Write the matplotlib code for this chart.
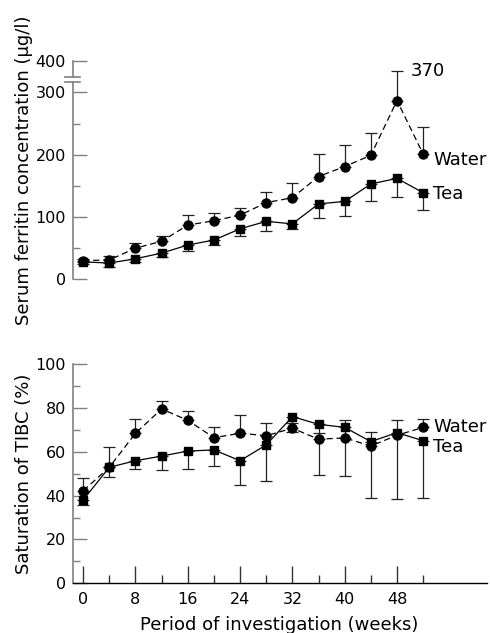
import numpy as np
import matplotlib
matplotlib.use("Agg")
import matplotlib.pyplot as plt
from matplotlib.ticker import FixedLocator

# weeks of investigation
weeks = [0, 4, 8, 12, 16, 20, 24, 28, 32, 36, 40, 44, 48, 52]

# serum ferritin (ug/l): means and one-sided error bar ends
ferritin_water = [30, 31, 50, 61, 87, 94, 103, 123, 131, 165, 181, 199, 287, 201]
ferritin_water_top = [33, 37, 58, 70, 103, 106, 115, 140, 155, 201, 215, 235, 370, 245]
ferritin_tea = [28, 26, 33, 42, 55, 63, 81, 93, 89, 121, 125, 153, 162, 139]
ferritin_tea_bot = [25, 19, 27, 35, 46, 55, 70, 78, 81, 98, 102, 126, 132, 112]

# saturation of TIBC (%)
tibc_water = [42.2, 52.9, 68.4, 79.5, 74.3, 66.4, 68.4, 67.3, 70.7, 65.7, 66.3, 62.6, 67.5, 71.1]
tibc_water_top = [47.9, 62.3, 75.1, 83.0, 78.7, 71.1, 76.6, 73.2, 73.0, 68.7, 74.5, 69.0, 74.5, 74.8]
tibc_tea = [38.0, 52.9, 55.9, 58.0, 60.3, 60.8, 55.9, 63.1, 76.0, 72.5, 71.1, 64.6, 68.7, 65.0]
tibc_tea_bot = [35.7, 48.3, 52.1, 51.7, 52.3, 53.6, 44.8, 46.5, 69.1, 49.5, 48.9, 39.0, 38.6, 39.0]

XMIN, XMAX = -1.6, 61.7
GREY = '#808080'
TICKFS = 11.5
TEXTFS = 13

# compress the y axis above 300 (axis break)
def fwd(y):
    y = np.asarray(y, dtype=float)
    return np.where(y <= 300, y, 300 + (y - 300) * 0.5)

def inv(y):
    y = np.asarray(y, dtype=float)
    return np.where(y <= 300, y, 300 + (y - 300) * 2.0)


def draw_series(ax, x, water, water_top, tea, tea_bot):
    w = np.array(water)
    t = np.array(tea)
    ax.errorbar(x, w, yerr=[np.zeros_like(w), np.array(water_top) - w], fmt='none',
                ecolor='#222222', elinewidth=0.9, capsize=4, capthick=0.9, zorder=2)
    ax.errorbar(x, t, yerr=[t - np.array(tea_bot), np.zeros_like(t)], fmt='none',
                ecolor='#222222', elinewidth=0.9, capsize=4, capthick=0.9, zorder=2)
    ax.plot(x, w, color='black', lw=0.9, dashes=(5, 3), marker='o', ms=6.5, zorder=3)
    ax.plot(x, t, color='black', lw=0.9, marker='s', ms=6.3, zorder=4)


fig = plt.figure(figsize=(4.9, 6.33), dpi=100)

# ---- top: serum ferritin
ax1 = fig.add_axes([0.1484, 0.5588, 0.8446, 0.3444])
ax1.set_yscale('function', functions=(fwd, inv))
draw_series(ax1, weeks, ferritin_water, ferritin_water_top, ferritin_tea, ferritin_tea_bot)
ax1.set_xlim(XMIN, XMAX)
ax1.set_ylim(0, 400)
for s in ['top', 'right', 'bottom', 'left']:
    ax1.spines[s].set_visible(False)
ax1.set_xticks([])
ax1.yaxis.set_major_locator(FixedLocator([0, 100, 200, 300, 400]))
ax1.yaxis.set_minor_locator(FixedLocator([50, 150, 250]))
ax1.set_yticklabels(['0', '100', '200', '300', '400'])
ax1.tick_params(axis='y', which='major', direction='in', length=10, width=1, color=GREY,
                labelsize=TICKFS, pad=5)
ax1.tick_params(axis='y', which='minor', direction='in', length=5, width=1, color=GREY)
# spine with break
ax1.plot([XMIN, XMIN], [0, 332], color=GREY, lw=1.2, clip_on=False, zorder=1)
ax1.plot([XMIN, XMIN], [351, 400], color=GREY, lw=1.2, clip_on=False, zorder=1)
for yb in [332, 351]:
    ax1.plot([XMIN - 1.15, XMIN + 1.15], [yb, yb], color=GREY, lw=1.2, clip_on=False)
ax1.text(50.1, 370, '370', fontsize=TEXTFS, ha='left', va='center')
ax1.text(53.5, 192, 'Water', fontsize=TEXTFS, ha='left', va='center')
ax1.text(53.5, 137, 'Tea', fontsize=TEXTFS, ha='left', va='center')
ax1.set_ylabel('Serum ferritin concentration (\u00b5g/l)', fontsize=TEXTFS)
ax1.yaxis.set_label_coords(-0.097, 0.5)

# ---- bottom: saturation of TIBC
ax2 = fig.add_axes([0.1484, 0.0785, 0.8446, 0.3465])
draw_series(ax2, weeks, tibc_water, tibc_water_top, tibc_tea, tibc_tea_bot)
ax2.set_xlim(XMIN, XMAX)
ax2.set_ylim(0, 100)
ax2.spines['top'].set_visible(False)
ax2.spines['right'].set_visible(False)
ax2.spines['left'].set_color(GREY)
ax2.spines['left'].set_linewidth(1.2)
ax2.spines['bottom'].set_color('black')
ax2.spines['bottom'].set_linewidth(1.0)
ax2.xaxis.set_major_locator(FixedLocator([0, 8, 16, 24, 32, 40, 48]))
ax2.xaxis.set_minor_locator(FixedLocator([4, 12, 20, 28, 36, 44, 52]))
ax2.yaxis.set_major_locator(FixedLocator([0, 20, 40, 60, 80, 100]))
ax2.yaxis.set_minor_locator(FixedLocator([10, 30, 50, 70, 90]))
ax2.tick_params(axis='both', which='major', direction='in', length=10, width=1, color=GREY,
                labelsize=TICKFS, pad=5)
ax2.tick_params(axis='both', which='minor', direction='in', length=5, width=1, color=GREY)
ax2.tick_params(axis='x', which='major', color='#333333', length=12, pad=6)
ax2.tick_params(axis='x', which='minor', color='#333333', length=6)
ax2.text(53.5, 71.4, 'Water', fontsize=TEXTFS, ha='left', va='center')
ax2.text(53.5, 62.0, 'Tea', fontsize=TEXTFS, ha='left', va='center')
ax2.set_ylabel('Saturation of TIBC (%)', fontsize=TEXTFS)
ax2.yaxis.set_label_coords(-0.097, 0.5)
ax2.set_xlabel('Period of investigation (weeks)', fontsize=TEXTFS, labelpad=7)

fig.savefig('out.png', dpi=100)
